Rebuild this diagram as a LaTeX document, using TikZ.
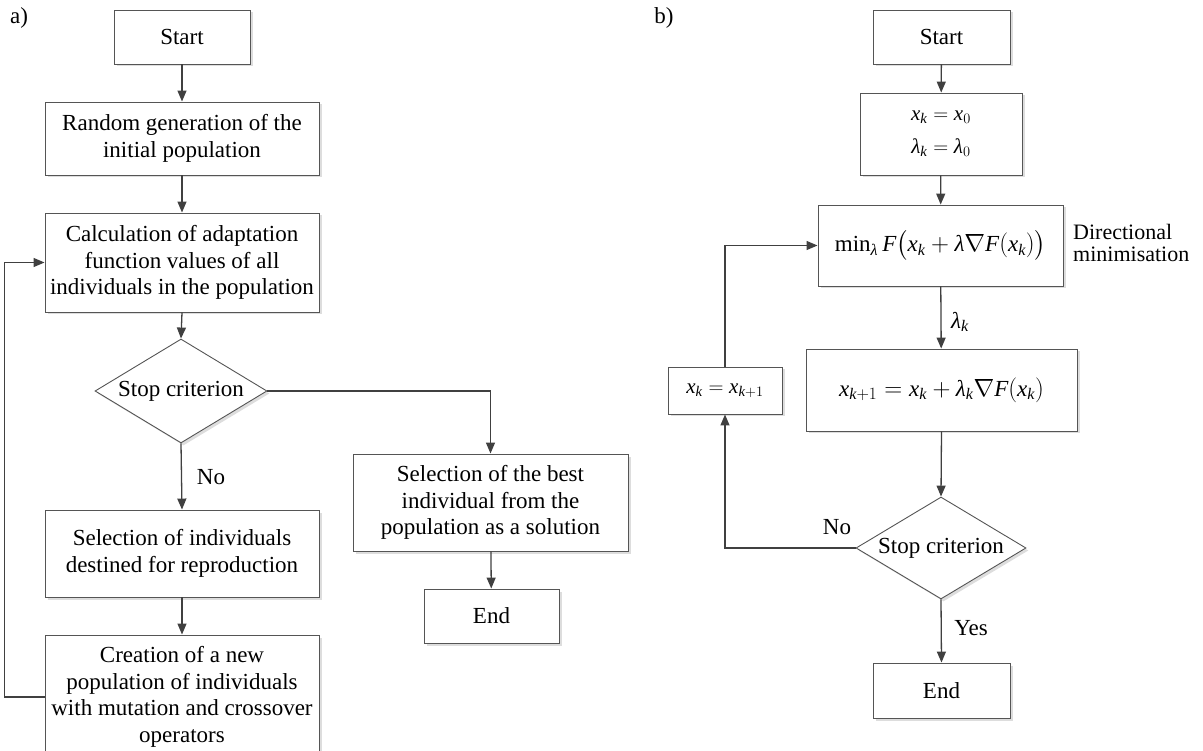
\documentclass[tikz,border=0pt]{standalone}
\usepackage{amsmath}
\usepackage{fontspec}
\setmainfont{Liberation Serif}
\usetikzlibrary{shapes.geometric,arrows.meta,shadows}
\definecolor{lc}{HTML}{404040}
\definecolor{bc}{HTML}{555555}
\newcommand{\myx}{\textit{x}}
\newcommand{\myk}{\textit{k}}
\newcommand{\mylam}{\textit{λ}}
\newcommand{\myF}{\textit{F}}
\tikzset{
 box/.style={draw=bc, line width=0.9pt, fill=white, inner sep=2pt, align=center,
   font=\fontsize{23}{26.5}\selectfont,
   drop shadow={shadow xshift=2.5pt, shadow yshift=-2.5pt, fill=black!22, opacity=0.6}},
 dec/.style={box, diamond, shape aspect=1.65, inner sep=0pt},
 arr/.style={draw=lc, line width=1.3pt, -{Triangle[length=11pt,width=9pt]}},
 lbl/.style={font=\fontsize{23}{26.5}\selectfont, inner sep=0pt},
}
\begin{document}
\begin{tikzpicture}[x=1pt,y=-1pt]
\path[use as bounding box, clip] (0,0) rectangle (1203,751);
% ---------- a) ----------
\node[lbl] (la) at (19,18) {a)};
\node[box, minimum width=136pt, minimum height=54pt] (s1) at (182,37) {Start};
\node[box, minimum width=274pt, minimum height=73pt] (r1) at (182,138.5) {Random generation of the\\initial population};
\node[box, minimum width=274pt, minimum height=99pt] (c1) at (182,262.5) {Calculation of adaptation\\function values of all\\individuals in the population};
\node[dec, minimum width=172pt, minimum height=104pt] (d1) at (181,391) {Stop criterion};
\node[box, minimum width=274pt, minimum height=87pt] (sel) at (182,553.5) {Selection of individuals\\destined for reproduction};
\node[box, minimum width=274pt, minimum height=124pt] (cre) at (182,697) {Creation of a new\\population of individuals\\with mutation and crossover\\operators};
\node[box, minimum width=275pt, minimum height=97pt] (best) at (490.5,502.5) {Selection of the best\\individual from the\\population as a solution};
\node[box, minimum width=135pt, minimum height=54pt] (e1) at (491.5,616) {End};
\node[lbl] (no1) at (211,477) {No};

\draw[arr] (s1) -- (r1);
\draw[arr] (r1) -- (c1);
\draw[arr] (c1.south) -- (d1.north);
\draw[arr] (d1.south) -- (sel.north);
\draw[arr] (d1.east) -| (best.north);
\draw[arr] (best) -- (e1);
\draw[arr] (sel) -- (cre);
\draw[arr] (cre.west) -- ++(-40,0) |- (c1.west);

% ---------- b) ----------
\node[lbl] (lb) at (664,18) {b)};
\node[box, minimum width=137pt, minimum height=54pt] (s2) at (941.5,37) {Start};
\node[box, minimum width=162pt, minimum height=82pt, font=\fontsize{21}{33}\selectfont] (i2) at (941,134)
  {$\myx_{\myk} = \myx_0$\\ $\mylam_{\myk} = \mylam_0$};
\node[box, minimum width=245pt, minimum height=81pt] (m2) at (940.5,245.5)
  {$\mathrm{min}_{\mylam}\, \myF\bigl(\myx_{\myk} + \mylam\nabla \myF(\myx_{\myk})\bigr)$};
\node[box, minimum width=271pt, minimum height=82pt] (u2) at (941.5,390)
  {$\myx_{\myk+1} = \myx_{\myk} + \mylam_{\myk}\nabla \myF(\myx_{\myk})$};
\node[box, minimum width=114pt, minimum height=47pt, font=\fontsize{21}{25}\selectfont] (k2) at (725,390.5)
  {$\myx_{\myk} = \myx_{\myk+1}$};
\node[dec, minimum width=170pt, minimum height=102pt] (d2) at (941,548) {Stop criterion};
\node[box, minimum width=137pt, minimum height=55pt] (e2) at (941.5,690.5) {End};
\node[lbl, anchor=west, align=left, font=\fontsize{22}{22.5}\selectfont] (dm) at (1073,243) {Directional\\minimisation};
\node[lbl] (lk) at (960,322) {$\mylam_{\myk}$};
\node[lbl] (no2) at (837,527) {No};
\node[lbl] (yes) at (971,628) {Yes};

\draw[arr] (s2) -- (i2);
\draw[arr] (i2) -- (m2);
\draw[arr] (m2) -- (u2);
\draw[arr] (u2.south) -- (d2.north);
\draw[arr] (d2.south) -- (e2.north);
\draw[arr] (d2.west) -| (k2.south);
\draw[arr] (k2.north) |- (m2.west);
\end{tikzpicture}
\end{document}
